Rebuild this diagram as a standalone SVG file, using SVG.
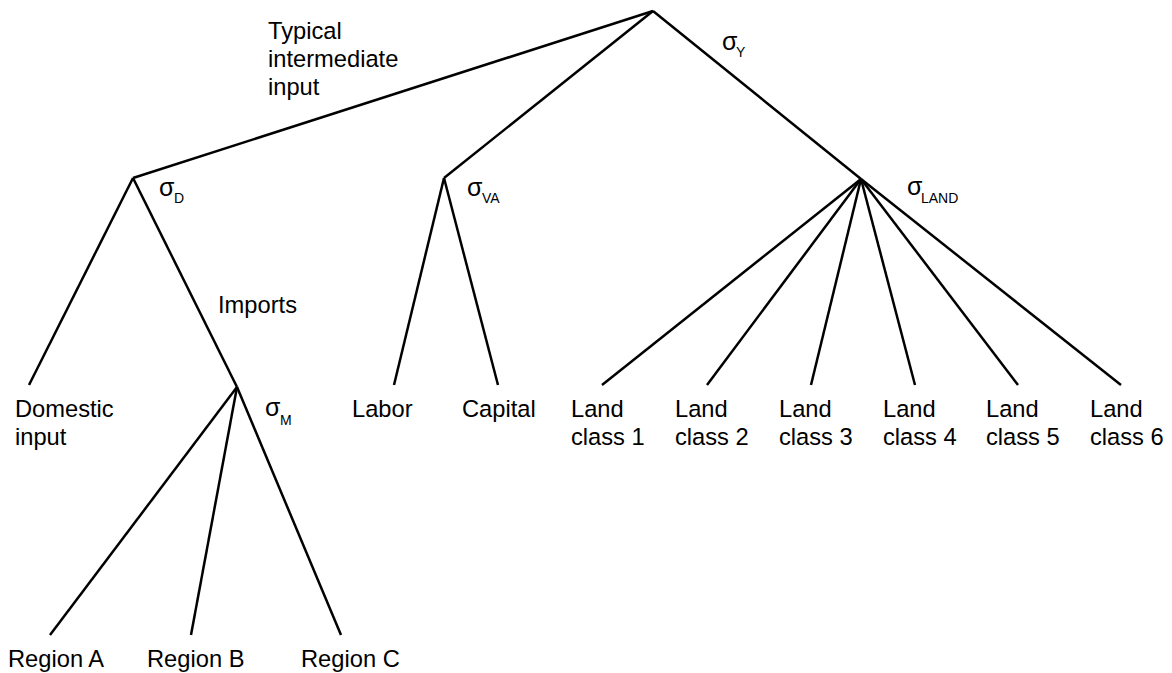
<svg xmlns="http://www.w3.org/2000/svg" width="1172" height="673" viewBox="0 0 1172 673">
<style>
.e{stroke:#000;stroke-width:2.5;fill:none;stroke-linecap:butt}
text{font-family:"Liberation Sans",Arial,sans-serif;font-size:23.7px;fill:#000}
.sg{font-size:25px}
.sb{font-size:14px}
</style>
<rect width="1172" height="673" fill="#fff"/>
<g id="connectors" class="e">
<line x1="653" y1="11" x2="133" y2="178"/>
<line x1="653" y1="11" x2="444" y2="178"/>
<line x1="653" y1="11" x2="861" y2="179"/>
<line x1="133" y1="178" x2="29" y2="385"/>
<line x1="133" y1="178" x2="237" y2="387"/>
<line x1="444" y1="178" x2="394" y2="385"/>
<line x1="444" y1="178" x2="498" y2="385"/>
<line x1="237" y1="387" x2="50" y2="635"/>
<line x1="237" y1="387" x2="191" y2="635"/>
<line x1="237" y1="387" x2="341" y2="635"/>
<line x1="861" y1="179" x2="602" y2="385"/>
<line x1="861" y1="179" x2="707" y2="385"/>
<line x1="861" y1="179" x2="811" y2="385"/>
<line x1="861" y1="179" x2="915" y2="385"/>
<line x1="861" y1="179" x2="1018" y2="385"/>
<line x1="861" y1="179" x2="1121" y2="385"/>
</g>
<g id="label-typical"><text x="268" y="39">Typical</text><text x="268" y="67">intermediate</text><text x="268" y="95">input</text></g>
<g id="sigma-Y"><text class="sg" x="722" y="50">σ</text><text class="sb" x="736" y="57">Y</text></g>
<g id="sigma-D"><text class="sg" x="159" y="196">σ</text><text class="sb" x="174" y="203">D</text></g>
<g id="sigma-VA"><text class="sg" x="467" y="196">σ</text><text class="sb" x="482" y="203">VA</text></g>
<g id="sigma-LAND"><text class="sg" x="907" y="195">σ</text><text class="sb" x="921" y="203">LAND</text></g>
<g id="label-imports"><text x="218" y="313">Imports</text></g>
<g id="sigma-M"><text class="sg" x="265" y="416">σ</text><text class="sb" x="280" y="425">M</text></g>
<g id="node-domestic"><text x="15" y="417">Domestic</text><text x="15" y="445">input</text></g>
<g id="node-labor"><text x="352" y="417">Labor</text></g>
<g id="node-capital"><text x="462" y="417">Capital</text></g>
<g id="node-land1"><text x="571" y="417">Land</text><text x="571" y="445">class 1</text></g>
<g id="node-land2"><text x="675" y="417">Land</text><text x="675" y="445">class 2</text></g>
<g id="node-land3"><text x="779" y="417">Land</text><text x="779" y="445">class 3</text></g>
<g id="node-land4"><text x="883" y="417">Land</text><text x="883" y="445">class 4</text></g>
<g id="node-land5"><text x="986" y="417">Land</text><text x="986" y="445">class 5</text></g>
<g id="node-land6"><text x="1090" y="417">Land</text><text x="1090" y="445">class 6</text></g>
<g id="node-regionA"><text x="8" y="667">Region A</text></g>
<g id="node-regionB"><text x="147" y="667">Region B</text></g>
<g id="node-regionC"><text x="301" y="667">Region C</text></g>
</svg>
